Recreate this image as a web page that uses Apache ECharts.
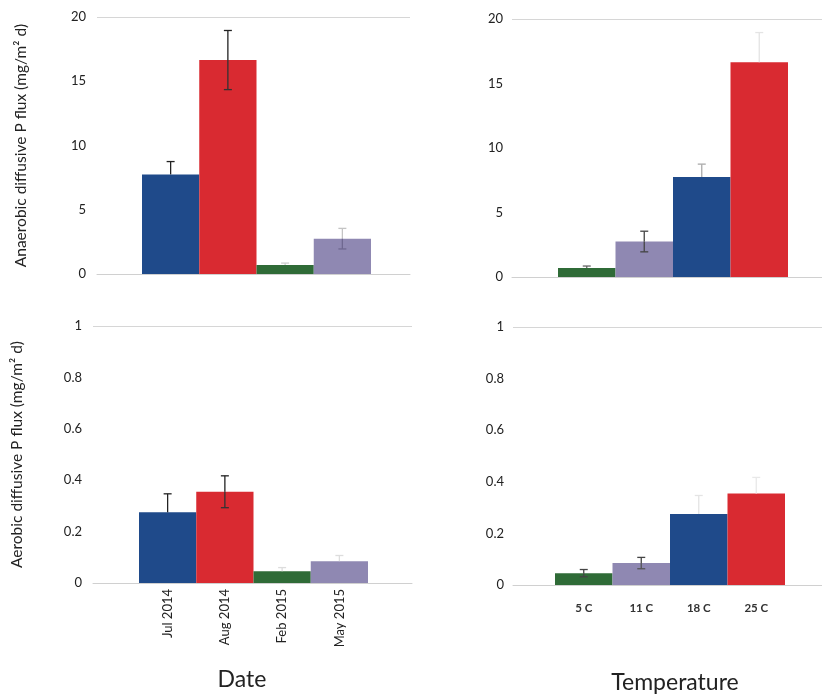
<!DOCTYPE html>
<html>
<head>
<meta charset="utf-8">
<script src="https://cdn.jsdelivr.net/npm/echarts@6/dist/echarts.min.js"></script>
<style>
  html, body { margin: 0; padding: 0; background: #fff; }
  #chart { width: 822px; height: 698px; }
</style>
</head>
<body>
<div id="chart"></div>
<script>
// Diffusive phosphorus flux from sediment cores, by sampling date and incubation temperature
const dates = ['Jul 2014', 'Aug 2014', 'Feb 2015', 'May 2015'];
const temperatures = ['5 C', '11 C', '18 C', '25 C'];

const anaerobicByDate = [7.75, 16.65, 0.7, 2.75];
const anaerobicByDateErr = [1.0, 2.3, 0.15, 0.8];
const anaerobicByTemp = [0.7, 2.75, 7.75, 16.65];
const anaerobicByTempErr = [0.15, 0.8, 1.0, 2.3];

const aerobicByDate = [0.275, 0.355, 0.046, 0.085];
const aerobicByDateErr = [0.072, 0.062, 0.014, 0.022];
const aerobicByTemp = [0.046, 0.085, 0.275, 0.355];
const aerobicByTempErr = [0.014, 0.022, 0.072, 0.062];

const anaerobicAxis = { max: 20, interval: 5 };
const aerobicAxis = { max: 1, interval: 0.2 };

const BLUE = '#1f4a8a', RED = '#d92a31', GREEN = '#2f6b37', PURPLE = '#8f88b2';
const dateColors = [BLUE, RED, GREEN, PURPLE];
const tempColors = [GREEN, PURPLE, BLUE, RED];

const FONT = 'Lato, "Open Sans", sans-serif';
const NONE = 'rgba(0,0,0,0)';

// errUp / errLow: stroke colour of the upper and lower whisker of each bar
const panels = [
  { frame: { left: 97, top: 17, width: 313, height: 257 }, bars: { left: 142, width: 229 },
    values: anaerobicByDate, errs: anaerobicByDateErr, colors: dateColors, axis: anaerobicAxis,
    categories: dates, showCats: false, yName: 'Anaerobic diffusive P flux (mg/m\u00B2 d)',
    errUp: ['#222', '#222', '#ccc', '#c4c4c4'], errLow: [NONE, '#333', NONE, '#6f6890'], labelMargin: 11 },
  { frame: { left: 512, top: 19, width: 310, height: 258 }, bars: { left: 558, width: 230 },
    values: anaerobicByTemp, errs: anaerobicByTempErr, colors: tempColors, axis: anaerobicAxis,
    categories: temperatures, showCats: false, yName: '',
    errUp: ['#666', '#444', '#aaa', '#e4e4e4'], errLow: [NONE, '#444', NONE, NONE], labelMargin: 9 },
  { frame: { left: 93, top: 326, width: 319, height: 257 }, bars: { left: 139, width: 229 },
    values: aerobicByDate, errs: aerobicByDateErr, colors: dateColors, axis: aerobicAxis,
    categories: dates, showCats: 'date', yName: 'Aerobic diffusive P flux (mg/m\u00B2 d)',
    errUp: ['#222', '#222', '#ddd', '#ddd'], errLow: [NONE, '#333', NONE, NONE], labelMargin: 11 },
  { frame: { left: 513, top: 327, width: 309, height: 258 }, bars: { left: 555, width: 230 },
    values: aerobicByTemp, errs: aerobicByTempErr, colors: tempColors, axis: aerobicAxis,
    categories: temperatures, showCats: 'temp', yName: '',
    errUp: ['#444', '#444', '#e4e4e4', '#e8e8e8'], errLow: ['#444', '#555', NONE, NONE], labelMargin: 9 }
];

const grid = [], xAxis = [], yAxis = [], series = [];

panels.forEach((p, i) => {
  const fi = 2 * i, bi = 2 * i + 1;
  const nLines = Math.round(p.axis.max / p.axis.interval) + 1;
  const lineColors = [];
  for (let k = 0; k < nLines; k++) lineColors.push(k === nLines - 1 ? '#d6d6d6' : NONE);

  // frame grid: value axis, gridline at the top, baseline across the full plot width
  grid.push({ left: p.frame.left, top: p.frame.top, width: p.frame.width, height: p.frame.height });
  xAxis.push({
    type: 'category', gridIndex: fi, data: [''],
    axisLine: { show: true, lineStyle: { color: '#d0d0d0', width: 1 } },
    axisTick: { show: false }, axisLabel: { show: false }
  });
  yAxis.push({
    type: 'value', gridIndex: fi, min: 0, max: p.axis.max, interval: p.axis.interval,
    axisLine: { show: false }, axisTick: { show: false },
    axisLabel: { color: '#222', fontSize: 13, fontFamily: FONT, margin: p.labelMargin },
    splitLine: { show: true, lineStyle: { color: lineColors, width: 1 } },
    name: p.yName, nameLocation: 'middle', nameGap: 68, nameRotate: 90,
    nameTextStyle: { color: '#222', fontSize: 15.5, fontFamily: FONT }
  });

  // bar grid: contiguous bars across the four categories
  grid.push({ left: p.bars.left, top: p.frame.top, width: p.bars.width, height: p.frame.height });
  let catLabel = { show: false };
  if (p.showCats === 'date') {
    catLabel = { show: true, rotate: 90, margin: 6, color: '#222', fontSize: 13, fontFamily: FONT };
  } else if (p.showCats === 'temp') {
    catLabel = { show: true, margin: 17, color: '#333', fontSize: 11.5, fontFamily: FONT, fontWeight: 'bold' };
  }
  xAxis.push({
    type: 'category', gridIndex: bi, data: p.categories,
    axisLine: { show: false }, axisTick: { show: false }, axisLabel: catLabel
  });
  yAxis.push({
    type: 'value', gridIndex: bi, min: 0, max: p.axis.max, interval: p.axis.interval,
    axisLine: { show: false }, axisTick: { show: false }, axisLabel: { show: false },
    splitLine: { show: false }
  });

  series.push({
    type: 'bar', xAxisIndex: bi, yAxisIndex: bi, barCategoryGap: '0%',
    data: p.values.map((v, k) => ({ value: v, itemStyle: { color: p.colors[k] } })),
    silent: true, animation: false
  });

  // error bars: mean ± error, with caps at both ends
  series.push({
    type: 'custom', xAxisIndex: bi, yAxisIndex: bi, silent: true, animation: false, z: 5,
    data: p.values.map((v, k) => [k, v - p.errs[k], v, v + p.errs[k]]),
    renderItem: function (params, api) {
      const idx = api.value(0);
      const lo = api.coord([idx, api.value(1)]);
      const mid = api.coord([idx, api.value(2)]);
      const hi = api.coord([idx, api.value(3)]);
      const cap = 4;
      const up = { stroke: p.errUp[idx], lineWidth: 1.3 };
      const low = { stroke: p.errLow[idx], lineWidth: 1.3 };
      return {
        type: 'group',
        children: [
          { type: 'line', shape: { x1: hi[0], y1: hi[1], x2: mid[0], y2: mid[1] }, style: up },
          { type: 'line', shape: { x1: hi[0] - cap, y1: hi[1], x2: hi[0] + cap, y2: hi[1] }, style: up },
          { type: 'line', shape: { x1: mid[0], y1: mid[1], x2: lo[0], y2: lo[1] }, style: low },
          { type: 'line', shape: { x1: lo[0] - cap, y1: lo[1], x2: lo[0] + cap, y2: lo[1] }, style: low }
        ]
      };
    }
  });
});

const chart = echarts.init(document.getElementById('chart'), null, { renderer: 'canvas' });
chart.setOption({
  backgroundColor: '#ffffff',
  animation: false,
  textStyle: { fontFamily: FONT },
  grid: grid,
  xAxis: xAxis,
  yAxis: yAxis,
  series: series,
  graphic: [
    { type: 'text', x: 242, y: 680, style: { text: 'Date', fill: '#222', font: '23px ' + FONT, align: 'center', verticalAlign: 'middle' } },
    { type: 'text', x: 675, y: 683, style: { text: 'Temperature', fill: '#222', font: '23px ' + FONT, align: 'center', verticalAlign: 'middle' } }
  ]
});
</script>
</body>
</html>
